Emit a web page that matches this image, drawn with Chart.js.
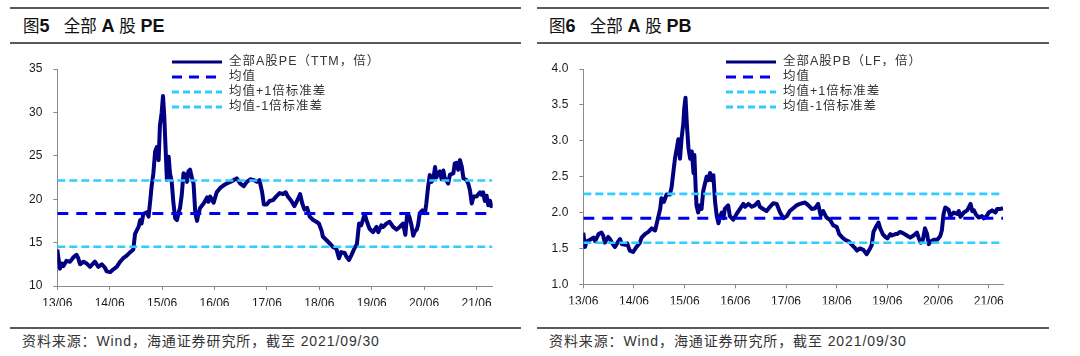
<!DOCTYPE html>
<html><head><meta charset="utf-8">
<script src="https://cdn.jsdelivr.net/npm/chart.js@4"></script>
<style>
body{margin:0;width:1080px;height:356px;background:#fff;position:relative;overflow:hidden;font-family:"Liberation Sans",Arial,"Noto Sans CJK SC",sans-serif}
.rule{position:absolute;height:2px;background:#5a5a5a}
.title{position:absolute;top:15px;height:20px;line-height:20px;font-size:17px;color:#111;white-space:nowrap}
.title .c{font-family:"Noto Sans CJK SC",sans-serif;font-weight:400;font-size:16.5px}
.title b{font-family:"Liberation Sans",Arial,sans-serif;font-weight:700;font-size:18px}
.foot{position:absolute;top:332px;line-height:18px;font-size:14px;color:#333;white-space:nowrap;letter-spacing:0.9px}
.leg{position:absolute;font-size:12.5px;color:#333;white-space:nowrap}
.row{position:absolute;left:0;height:15px;line-height:15px;display:flex;align-items:center}
.row svg{width:50px;height:6px;margin-right:7px;flex:none}
.row span{letter-spacing:1px}
canvas{position:absolute;top:0}
</style></head>
<body>
<div class="rule" style="left:10px;width:511px;top:7px"></div>
<div class="rule" style="left:10px;width:511px;top:42px"></div>
<div class="rule" style="left:10px;width:511px;top:327px"></div>
<div class="rule" style="left:537px;width:512px;top:7px"></div>
<div class="rule" style="left:537px;width:512px;top:42px"></div>
<div class="rule" style="left:537px;width:512px;top:327px"></div>

<div class="title" style="left:23px"><span class="c">图</span><b>5</b>&nbsp;&nbsp;&nbsp;<span class="c">全部</span> <b>A</b> <span class="c">股</span> <b>PE</b></div>
<div class="title" style="left:549px"><span class="c">图</span><b>6</b>&nbsp;&nbsp;&nbsp;<span class="c">全部</span> <b>A</b> <span class="c">股</span> <b>PB</b></div>

<div class="foot" style="left:22px">资料来源：Wind，海通证券研究所，截至 2021/09/30</div>
<div class="foot" style="left:549px">资料来源：Wind，海通证券研究所，截至 2021/09/30</div>

<canvas id="pe" width="520" height="356" style="left:0"></canvas>
<canvas id="pb" width="520" height="356" style="left:526px"></canvas>

<div class="leg" id="legPE" style="left:172px;top:54px"></div>
<div class="leg" id="legPB" style="left:726px;top:54px"></div>

<script>
// ---- data ----
const xTickMonths = [0,12,24,36,48,60,72,84,96];
const xTickLabels = ['13/06','14/06','15/06','16/06','17/06','18/06','19/06','20/06','21/06'];

const peYTicks = [10,15,20,25,30,35];
const pbYTicks = [1.0,1.5,2.0,2.5,3.0,3.5,4.0];

const peMonths = [0,0.23,0.6,1.0,1.4,2.1,2.9,3.7,4.4,4.8,5.2,6.0,6.7,7.5,8.6,9.4,10.2,10.9,11.3,12.1,12.8,13.6,14.4,15.1,15.9,16.7,17.4,17.8,18.6,19.0,19.3,19.7,20.5,20.9,21.3,21.6,22.0,22.4,22.8,23.2,23.5,23.9,24.2,24.5,24.7,25.1,25.5,25.8,26.2,26.6,27.0,27.4,27.8,28.1,28.5,28.9,29.3,29.7,30.0,30.4,30.8,31.2,31.6,32.0,32.3,32.7,33.5,34.3,34.6,35.0,35.8,36.5,37.3,38.1,38.8,39.6,40.4,41.1,41.9,42.7,43.4,44.2,45.0,45.7,46.3,46.9,47.3,48.0,48.6,49.4,50.1,50.9,51.7,52.3,52.8,53.6,54.3,55.1,55.6,56.1,56.6,57.2,57.8,58.6,59.3,59.9,60.5,60.8,61.6,62.4,63.1,63.9,64.5,65.0,65.8,66.2,66.8,67.3,68.1,68.6,69.1,69.6,70.4,70.8,71.2,71.5,72.3,73.1,73.5,74.2,74.6,75.4,76.1,76.9,77.7,78.4,79.2,79.7,80.1,80.6,81.1,81.5,81.9,82.3,82.6,83.0,83.6,84.2,84.5,84.9,85.3,85.7,86.1,86.5,86.8,87.2,87.6,88.0,88.4,88.7,89.5,89.9,90.7,91.0,91.4,91.8,92.2,92.6,93.0,93.7,94.1,94.5,94.9,95.3,96.0,96.8,97.2,97.5,97.9,98.3,98.7,99.1,99.4,99.6];
const peValues = [14.2,13.3,12.0,12.6,12.3,12.9,12.8,13.3,13.6,13.2,12.5,12.8,12.6,12.2,12.8,12.2,12.5,12.1,11.7,11.6,11.9,12.2,12.8,13.2,13.5,13.9,14.2,16.0,16.8,17.6,17.2,18.3,18.5,18.0,19.9,21.5,23.0,25.5,26.0,24.5,28.5,30.0,31.9,29.5,27.0,22.2,24.9,23.0,22.0,19.5,17.8,17.6,18.5,19.0,20.5,23.0,22.8,22.0,23.2,23.4,22.5,21.8,18.4,17.5,18.3,19.0,19.5,20.2,19.7,20.3,19.6,20.8,21.3,21.6,21.8,22.0,22.2,22.4,21.8,21.5,22.0,22.3,22.2,22.0,22.2,20.8,19.4,19.4,19.8,19.9,20.3,20.7,20.6,20.8,20.3,19.8,19.2,20.0,20.6,19.5,18.8,19.0,18.0,17.6,17.4,17.2,16.4,15.7,15.3,14.9,14.5,14.3,13.2,13.9,13.8,13.4,13.0,13.5,14.4,14.8,17.2,17.0,18.3,17.6,17.0,16.6,16.2,16.8,16.2,17.0,16.8,17.2,17.4,16.8,16.5,16.8,17.2,15.9,18.2,18.0,17.0,15.8,16.3,16.5,17.0,18.4,18.7,18.4,19.5,21.4,22.8,22.0,22.3,23.7,22.5,23.0,23.2,22.3,23.3,22.5,21.8,22.8,23.0,24.1,24.2,23.4,24.5,23.8,22.4,22.2,21.8,21.0,19.5,20.3,20.3,20.8,20.5,20.8,19.8,20.4,19.3,19.8,19.2,19.5];
const peBands = [18.35, 22.15, 14.53]; // mean, +1 std, -1 std

const pbMonths = [0,0.4,0.8,1.6,2.4,2.8,3.6,4.3,4.7,5.1,5.9,6.3,7.1,7.5,8.3,8.7,9.1,9.9,10.4,11.0,11.8,12.6,13.4,13.8,14.6,15.4,16.2,17.0,17.8,18.2,18.5,19.1,19.7,20.5,20.9,21.3,21.7,22.1,22.5,22.9,23.3,23.7,23.9,24.2,24.5,24.9,25.3,25.7,26.1,26.3,26.6,26.8,27.2,27.6,28.0,28.4,28.8,29.2,29.6,30.0,30.4,30.8,31.2,31.6,32.0,32.4,32.8,33.2,33.5,34.3,34.7,35.5,36.3,37.1,37.9,38.3,39.1,39.9,40.6,41.4,41.8,42.6,43.4,44.2,45.0,45.8,46.6,47.4,48.2,48.9,49.7,50.5,51.3,52.5,53.3,54.1,54.9,55.6,56.2,56.8,57.6,58.4,59.2,60.0,60.6,61.2,62.0,62.8,63.6,64.4,64.8,65.5,66.3,67.1,67.9,68.3,68.7,69.3,69.9,70.3,70.9,71.5,72.0,72.7,73.1,73.9,74.3,75.0,75.8,76.6,77.4,78.2,79.0,79.4,79.9,80.4,80.9,81.4,81.8,82.3,83.0,83.8,84.5,84.9,85.3,85.7,86.5,86.9,87.7,88.5,88.9,89.3,90.1,90.9,91.7,92.1,92.5,92.9,93.6,94.4,94.8,95.5,96.0,96.8,97.6,98.0,98.8,99.4];
const pbValues = [1.72,1.52,1.60,1.62,1.65,1.60,1.70,1.72,1.68,1.58,1.66,1.63,1.55,1.52,1.60,1.63,1.56,1.55,1.57,1.47,1.45,1.52,1.58,1.65,1.70,1.73,1.78,1.75,1.95,2.05,2.20,2.15,2.25,2.25,2.35,2.55,2.75,2.88,3.02,2.75,3.05,3.25,3.45,3.60,3.25,2.90,2.75,2.85,2.55,2.80,2.35,2.10,2.00,2.10,2.05,2.30,2.40,2.50,2.45,2.55,2.45,2.52,2.15,1.95,1.85,1.95,2.00,1.92,2.05,2.10,1.95,1.90,1.98,2.05,2.12,2.08,2.12,2.08,2.10,2.15,2.08,2.05,2.02,2.08,2.13,2.12,2.00,1.92,1.95,2.02,2.06,2.10,2.12,2.14,2.10,2.05,2.06,2.12,1.96,2.02,1.93,1.90,1.82,1.80,1.70,1.66,1.62,1.60,1.55,1.50,1.47,1.50,1.48,1.42,1.50,1.55,1.73,1.80,1.86,1.78,1.70,1.66,1.64,1.70,1.68,1.70,1.70,1.73,1.71,1.68,1.65,1.68,1.72,1.65,1.58,1.62,1.78,1.70,1.56,1.60,1.62,1.62,1.67,1.75,1.98,2.07,2.04,1.95,2.00,1.98,2.02,1.94,2.00,2.03,2.12,2.02,2.03,1.98,1.93,1.95,1.92,1.95,2.00,2.03,2.00,2.05,2.05,2.06];
const pbBands = [1.92, 2.26, 1.58];

const peLegend = ['全部A股PE（TTM，倍）','均值','均值+1倍标准差','均值-1倍标准差'];
const pbLegend = ['全部A股PB（LF，倍）','均值','均值+1倍标准差','均值-1倍标准差'];

// ---- styles ----
const NAVY = '#000080', BLUE = '#0000EE', CYAN = '#33CCFF', AXIS = '#8a8a8a', TXT = '#1a1a1a';

function buildLegend(id, labels){
  const el = document.getElementById(id);
  const samples = [
    `<line x1="0" y1="3" x2="50" y2="3" stroke="${NAVY}" stroke-width="3"/>`,
    `<line x1="0" y1="3" x2="50" y2="3" stroke="${BLUE}" stroke-width="3" stroke-dasharray="10 7"/>`,
    `<line x1="0" y1="3" x2="50" y2="3" stroke="${CYAN}" stroke-width="3" stroke-dasharray="7 4"/>`,
    `<line x1="0" y1="3" x2="50" y2="3" stroke="${CYAN}" stroke-width="3" stroke-dasharray="7 4"/>`
  ];
  labels.forEach((t,i)=>{
    const r = document.createElement('div');
    r.className='row'; r.style.top = (i*15)+'px';
    r.innerHTML = `<svg viewBox="0 0 50 6">${samples[i]}</svg><span>${t}</span>`;
    el.appendChild(r);
  });
}
buildLegend('legPE', peLegend);
buildLegend('legPB', pbLegend);

function makeChart(id, months, values, bands, yTicks, yMin, yMax, xMax, pad, decimals){
  const pts = months.map((m,i)=>({x:m,y:values[i]}));
  const x0 = months[0], x1 = months[months.length-1];
  const band = (v)=>[{x:x0,y:v},{x:x1,y:v}];
  return new Chart(document.getElementById(id), {
    type:'line',
    data:{datasets:[
      {data:pts, borderColor:NAVY, borderWidth:4, pointRadius:0, tension:0, borderJoinStyle:'round', order:4},
      {data:band(bands[0]), borderColor:BLUE, borderWidth:3, borderDash:[11,8], pointRadius:0, order:1},
      {data:band(bands[1]), borderColor:CYAN, borderWidth:2.6, borderDash:[8,4], pointRadius:0, order:2},
      {data:band(bands[2]), borderColor:CYAN, borderWidth:2.6, borderDash:[8,4], pointRadius:0, order:3}
    ]},
    options:{
      responsive:false, animation:false, events:[],
      layout:{padding:pad},
      plugins:{legend:{display:false}, tooltip:{enabled:false}},
      scales:{
        x:{type:'linear', min:0, max:xMax,
          afterBuildTicks:(s)=>{s.ticks = xTickMonths.map(v=>({value:v}));},
          afterFit:(s)=>{s.height=20;},
          ticks:{autoSkip:false, maxRotation:0, padding:6, color:TXT,
            font:{family:'"Liberation Sans", Arial, sans-serif', size:12},
            callback:(v)=>{const i=xTickMonths.indexOf(v); return i>=0?xTickLabels[i]:'';}},
          grid:{drawOnChartArea:false, color:AXIS, tickLength:4},
          border:{color:AXIS, width:1}
        },
        y:{min:yMin, max:yMax,
          afterBuildTicks:(s)=>{s.ticks = yTicks.map(v=>({value:v}));},
          afterFit:(s)=>{s.width=57.3;},
          ticks:{padding:11, color:TXT,
            font:{family:'"Liberation Sans", Arial, sans-serif', size:12},
            callback:(v)=>decimals?Number(v).toFixed(decimals):String(v)},
          grid:{drawOnChartArea:false, color:AXIS, tickLength:4},
          border:{color:AXIS, width:1}
        }
      }
    }
  });
}

makeChart('pe', peMonths, peValues, peBands, peYTicks, 10, 35, 99.7, {top:69, right:27.3, bottom:50, left:0}, 0);
makeChart('pb', pbMonths, pbValues, pbBands, pbYTicks, 1, 4, 99.45, {top:69, right:42.7, bottom:51.7, left:0}, 1);
</script>
</body></html>
